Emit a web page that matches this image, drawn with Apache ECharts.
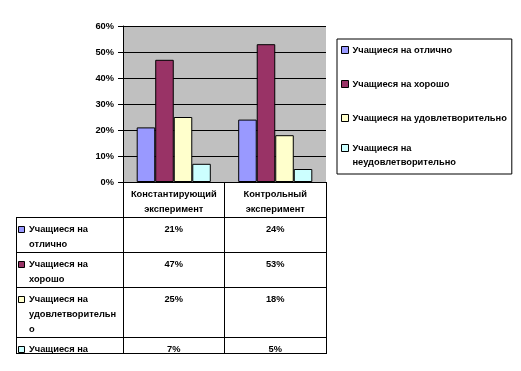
<!DOCTYPE html>
<html><head><meta charset="utf-8">
<script src="https://cdn.jsdelivr.net/npm/echarts@6/dist/echarts.min.js"></script>
<style>html,body{margin:0;padding:0;background:#fff}#c{width:521px;height:371px}</style>
</head><body><div id="c"></div>
<script>
// ---- data ----
const categories = ['Константирующий\nэксперимент', 'Контрольный\nэксперимент'];
const seriesNames = ['Учащиеся на отлично', 'Учащиеся на хорошо', 'Учащиеся на удовлетворительно', 'Учащиеся на неудовлетворительно'];
const legendLabels = ['Учащиеся на отлично', 'Учащиеся на хорошо', 'Учащиеся на удовлетворительно', 'Учащиеся на\nнеудовлетворительно'];
const tableRowLabels = ['Учащиеся на\nотлично', 'Учащиеся на\nхорошо', 'Учащиеся на\nудовлетворительн\nо', 'Учащиеся на'];
const excellent = [21, 24];
const good = [47, 53];
const satisfactory = [25, 18];
const unsatisfactory = [7, 5];
const yMin = 0, yMax = 60, yStep = 10;

// ---- layout / style ----
const FONT = 'Liberation Sans';
const FS = 9.3;
const colors = ['#9999FF', '#993366', '#FFFFCC', '#CCFFFF'];
const seriesValues = [excellent, good, satisfactory, unsatisfactory];
const G = { left: 123, right: 326, top: 26, bottom: 182 };
const tableLeft = 16;
const rowLines = [217, 252, 287, 337, 353];
const lineH = 15;
// legend markers: square centred in a 7x21 box, or at the top of it for the two-line entry
const iconMid = 'path://M0,0M0,7L7,7L7,14L0,14ZM7,21';
const iconTop = 'path://M0,0L7,0L7,7L0,7ZM7,21';

const chart = echarts.init(document.getElementById('c'), null, { renderer: 'canvas' });
const txt = { fontFamily: FONT, fontSize: FS, fontWeight: 'bold', color: '#000' };

const option = {
  animation: false,
  backgroundColor: '#fff',
  grid: { left: G.left, top: G.top, width: G.right - G.left, height: G.bottom - G.top,
          show: true, backgroundColor: '#C0C0C0', borderWidth: 0 },
  legend: {
    orient: 'vertical', left: 337, top: 39,
    data: seriesNames.map((n, i) => ({ name: n, icon: i === seriesNames.length - 1 ? iconTop : iconMid })),
    formatter: name => legendLabels[seriesNames.indexOf(name)],
    itemWidth: 7, itemHeight: 21, itemGap: 12,
    borderColor: '#000', borderWidth: 1, borderRadius: 0,
    padding: [0, 5, 5, 4],
    itemStyle: { borderColor: '#000', borderWidth: 1 },
    textStyle: Object.assign({}, txt, { lineHeight: 14, padding: [0, 0, 0, -1] })
  },
  xAxis: {
    type: 'category', data: categories,
    axisLine: { lineStyle: { color: '#000', width: 1 } },
    axisTick: { show: true, length: rowLines[rowLines.length - 1] - G.bottom, lineStyle: { color: '#000' } },
    axisLabel: Object.assign({}, txt, { lineHeight: 15, margin: 5, interval: 0 })
  },
  yAxis: {
    type: 'value', min: yMin, max: yMax, interval: yStep,
    axisLine: { show: true, lineStyle: { color: '#000', width: 1 } },
    axisTick: { show: true, length: 5, lineStyle: { color: '#000' } },
    axisLabel: Object.assign({}, txt, { formatter: '{value}%', margin: 9 }),
    splitLine: { show: true, lineStyle: { color: '#000', width: 1 } }
  },
  series: seriesNames.map((n, i) => ({
    name: n, type: 'bar', data: seriesValues[i],
    barGap: '0%', barCategoryGap: '27%',
    itemStyle: { color: colors[i], borderColor: '#000', borderWidth: 1 }
  }))
};
chart.setOption(option);

// ---- data table under the axis ----
const gfx = [];
rowLines.forEach(y => gfx.push({ type: 'line', shape: { x1: tableLeft, y1: y + 0.5, x2: G.right + 1, y2: y + 0.5 },
  style: { stroke: '#000', lineWidth: 1 }, silent: true }));
gfx.push({ type: 'line', shape: { x1: tableLeft + 0.5, y1: rowLines[0], x2: tableLeft + 0.5, y2: rowLines[rowLines.length - 1] + 1 },
  style: { stroke: '#000', lineWidth: 1 } });
const fontStr = 'bold ' + FS + 'px "' + FONT + '"';
tableRowLabels.forEach((lab, r) => {
  const top = rowLines[r];
  gfx.push({ type: 'rect', shape: { x: tableLeft + 2.5, y: top + 9.5, width: 6, height: 6 },
    style: { fill: colors[r], stroke: '#000', lineWidth: 1 } });
  gfx.push({ type: 'text', x: tableLeft + 13, y: top + 5,
    style: { text: lab, textAlign: 'left', textVerticalAlign: 'top', lineHeight: lineH,
      font: fontStr, fill: '#000' } });
  categories.forEach((c, ci) => {
    const px = chart.convertToPixel({ xAxisIndex: 0 }, c);
    gfx.push({ type: 'text', x: px, y: top + 5,
      style: { text: seriesValues[r][ci] + '%', textAlign: 'center', textVerticalAlign: 'top',
        lineHeight: lineH, font: fontStr, fill: '#000' } });
  });
});
chart.setOption({ graphic: { elements: gfx } });
</script>
</body></html>
